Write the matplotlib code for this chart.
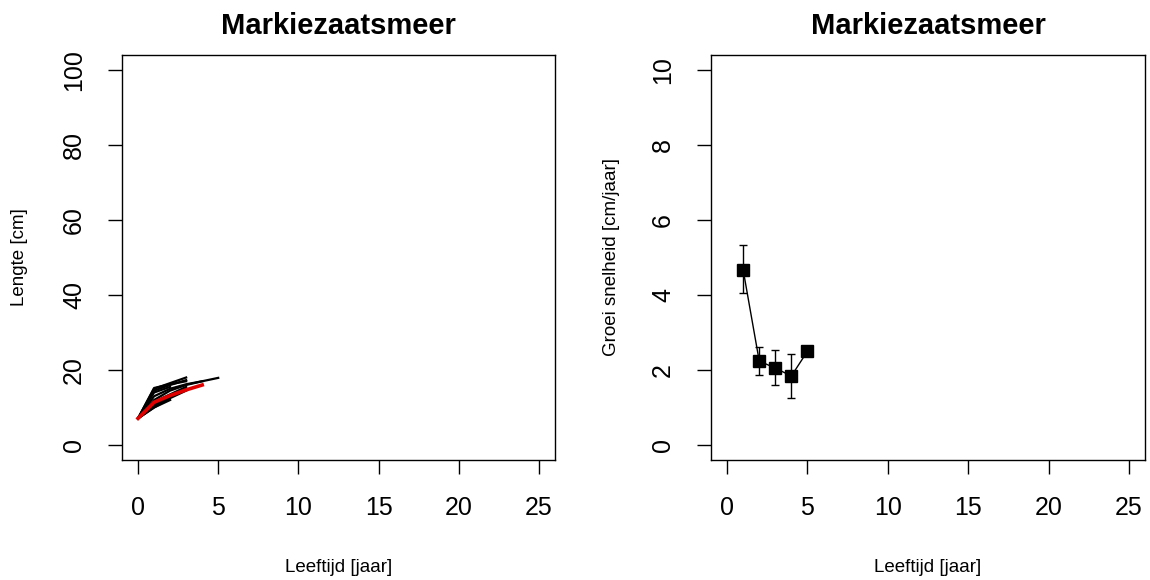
import matplotlib
matplotlib.use('Agg')
import matplotlib.pyplot as plt

plt.rcParams['font.family'] = ['Liberation Sans', 'DejaVu Sans']

title = 'Markiezaatsmeer'

# back-calculated length per fish, by age (years)
fish_lengths = [
    [7.1, 12.0, 14.5, 16.0, 17.0, 17.9],
    [7.1, 13.0, 15.0, 16.2, 17.0],
    [7.1, 15.0, 16.5, 18.0],
    [7.1, 14.5, 16.0, 17.3],
    [7.1, 15.2, 16.2, 17.0],
    [7.1, 10.0, 12.5, 14.5],
    [7.1, 10.5, 13.0, 15.0],
    [7.1, 11.5, 13.5, 15.5],
    [7.1, 14.0, 15.5],
    [7.1, 11.0, 13.0],
    [7.1, 10.0, 12.0],
]
mean_age = [0, 1, 2, 3, 4]
mean_length = [7.1, 11.4, 13.2, 14.7, 16.0]

# mean growth rate per age with error bars
growth_age = [1, 2, 3, 4, 5]
growth_rate = [4.67, 2.24, 2.05, 1.84, 2.50]
growth_lo = [4.05, 1.87, 1.60, 1.25, 2.50]
growth_hi = [5.33, 2.61, 2.53, 2.43, 2.50]

fig = plt.figure(figsize=(11.5, 5.8), dpi=100)
ax1 = fig.add_axes([122 / 1150, 1 - 460 / 580, 433 / 1150, 405 / 580])
ax2 = fig.add_axes([711 / 1150, 1 - 460 / 580, 434 / 1150, 405 / 580])


def style(ax, ymax, ylabel, ylab_x):
    ax.set_xlim(-1, 26)
    ax.set_ylim(-0.04 * ymax, 1.04 * ymax)
    ax.set_xticks([0, 5, 10, 15, 20, 25])
    ax.set_yticks([ymax * i / 5 for i in range(6)])
    ax.set_yticklabels(['%g' % (ymax * i / 5) for i in range(6)],
                       rotation=90, va='center')
    ax.tick_params(direction='out', length=10, width=1, labelsize=18, pad=16)
    for s in ax.spines.values():
        s.set_linewidth(1)
    ax.set_title(title, fontsize=21, fontweight='bold', pad=15)
    ax.set_xlabel('Leeftijd [jaar]', fontsize=13.5, va='center')
    ax.set_ylabel(ylabel, fontsize=13.5, va='center')
    ax.xaxis.set_label_coords(0.5, -108 / 405)
    ax.yaxis.set_label_coords(ylab_x, 0.5)


for lengths in fish_lengths:
    ax1.plot(range(len(lengths)), lengths, color='black', lw=1.6)
ax1.plot(mean_age, mean_length, color='#e00000', lw=2.6)
style(ax1, 100, 'Lengte [cm]', -102 / 433)

yerr = [[r - lo for r, lo in zip(growth_rate, growth_lo)],
        [hi - r for r, hi in zip(growth_rate, growth_hi)]]
ax2.errorbar(growth_age, growth_rate, yerr=yerr, color='black', lw=1,
             elinewidth=1, capsize=3, marker='s', markersize=8)
style(ax2, 10, 'Groei snelheid [cm/jaar]', -100 / 434)

fig.savefig('out.png', dpi=100)
